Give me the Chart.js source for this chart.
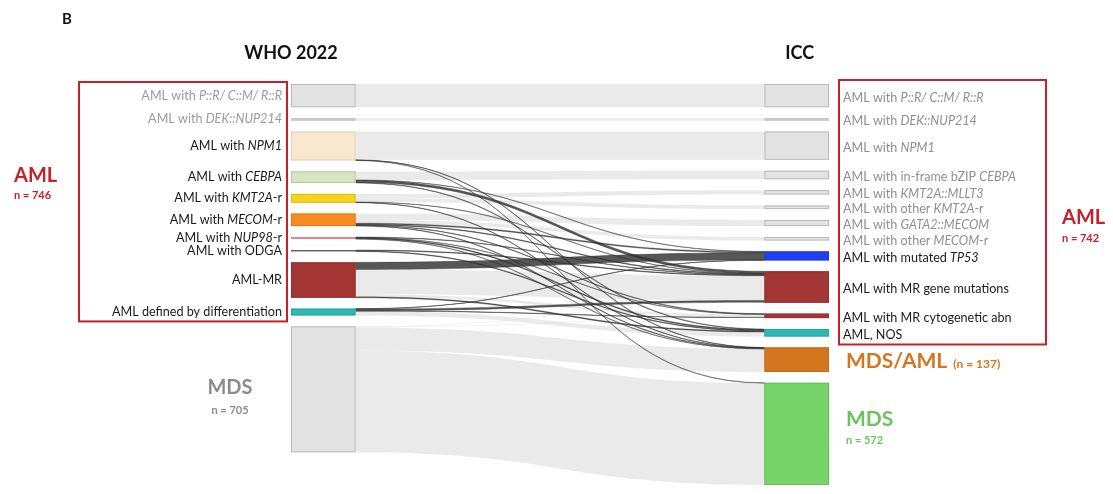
<!DOCTYPE html>
<html>
<head>
<meta charset="utf-8">
<script src="https://cdn.jsdelivr.net/npm/chart.js@4.4.1/dist/chart.umd.min.js"></script>
<style>
  html, body { margin: 0; padding: 0; background: #ffffff; }
  canvas { display: block; }
</style>
</head>
<body>
<canvas id="flow" width="1113" height="494"></canvas>
<script>
// WHO 2022 categories, top to bottom (*...* = italic gene names)
const whoCategories = [
  'AML with *P::R/ C::M/ R::R*',
  'AML with *DEK::NUP214*',
  'AML with *NPM1*',
  'AML with *CEBPA*',
  'AML with *KMT2A*-r',
  'AML with *MECOM*-r',
  'AML with *NUP98*-r',
  'AML with ODGA',
  'AML-MR',
  'AML defined by differentiation',
  'MDS'
];

// ICC categories, top to bottom
const iccCategories = [
  'AML with *P::R/ C::M/ R::R*',
  'AML with *DEK::NUP214*',
  'AML with *NPM1*',
  'AML with in-frame bZIP *CEBPA*',
  'AML with *KMT2A::MLLT3*',
  'AML with other *KMT2A*-r',
  'AML with *GATA2::MECOM*',
  'AML with other *MECOM*-r',
  'AML with mutated *TP53*',
  'AML with MR gene mutations',
  'AML with MR cytogenetic abn',
  'AML, NOS',
  'MDS/AML',
  'MDS'
];

// Patient flows WHO 2022 -> ICC
const flowFrom  = [0, 1, 2, 2, 2, 3, 3, 3, 3, 4, 4, 4, 4, 5, 5, 5, 5, 5, 5, 6, 6, 6, 6, 7, 7, 8, 8, 8, 8, 9, 9, 9, 9, 10, 10, 10, 10, 10];
const flowTo    = [0, 1, 2, 12, 13, 3, 8, 9, 11, 4, 5, 9, 12, 6, 7, 8, 9, 10, 12, 9, 10, 11, 12, 9, 11, 8, 9, 10, 11, 8, 9, 10, 11, 9, 10, 11, 12, 13];
const flowCount = [130, 14, 158, 2, 2, 48, 2, 12, 3, 25, 20, 2, 2, 34, 20, 6, 4, 3, 3, 3, 2, 5, 2, 4, 4, 40, 138, 15, 5, 2, 10, 2, 24, 3, 3, 1, 128, 570];
// true where the patient changes diagnostic group between the two systems
const flowChanged = [false, false, false, true, true, false, true, true, true, false, false, true, true, false, false, true, true, true, true, true, true, true, true, true, true, true, false, false, true, true, true, true, false, false, false, false, false, false];

// Group totals
const groupLabels = ['AML', 'AML', 'MDS', 'MDS/AML', 'MDS'];
const groupCounts = [746, 742, 705, 137, 572];

// ---- styling ----
const GREY_BOX = { fill: '#e3e3e3', stroke: '#b9b9b9' };
const whoStyle = [
  { ...GREY_BOX, text: '#9b9b9b' },
  { fill: '#c9c9c9', stroke: '#c9c9c9', text: '#9b9b9b' },
  { fill: '#f7e8cf', stroke: '#e2d2b4', text: '#1a1a1a' },
  { fill: '#d6e6c4', stroke: '#b5c99d', text: '#1a1a1a' },
  { fill: '#f8d21c', stroke: '#e4bd0c', text: '#1a1a1a' },
  { fill: '#f78b1f', stroke: '#e47a12', text: '#1a1a1a' },
  { fill: '#d98b92', stroke: '#d98b92', text: '#1a1a1a' },
  { fill: '#6e5660', stroke: '#6e5660', text: '#1a1a1a' },
  { fill: '#a33535', stroke: '#973030', text: '#1a1a1a' },
  { fill: '#2fb7b1', stroke: '#27a7a1', text: '#1a1a1a' },
  { ...GREY_BOX, text: '#8c8c8c' }
];
const iccStyle = [
  { ...GREY_BOX, text: '#8f8f8f' },
  { fill: '#c9c9c9', stroke: '#c9c9c9', text: '#8f8f8f' },
  { ...GREY_BOX, text: '#8f8f8f' },
  { ...GREY_BOX, text: '#8f8f8f' },
  { ...GREY_BOX, text: '#8f8f8f' },
  { ...GREY_BOX, text: '#8f8f8f' },
  { ...GREY_BOX, text: '#8f8f8f' },
  { ...GREY_BOX, text: '#8f8f8f' },
  { fill: '#1f40f2', stroke: '#1a36d8', text: '#1a1a1a' },
  { fill: '#a33535', stroke: '#973030', text: '#1a1a1a' },
  { fill: '#a33535', stroke: '#973030', text: '#1a1a1a' },
  { fill: '#2fb7b1', stroke: '#27a7a1', text: '#1a1a1a' },
  { fill: '#d4761f', stroke: '#c46a17', text: '#1a1a1a' },
  { fill: '#76d46b', stroke: '#62bd58', text: '#1a1a1a' }
];

const RED = '#c8202a';
const FONT = 'Lato, "Open Sans", sans-serif';
const LABEL_SIZE = 12.6;
const NODE_GAP = 61;      // spacing between stacked categories, in patients
const NODE_W = 0.12;      // node width in x-axis units

// ---- layout in data units ----
function nodeTotals(count, key) {
  const t = new Array(count).fill(0);
  flowCount.forEach((v, i) => { t[key[i]] += v; });
  return t;
}
function stack(totals) {
  const out = [];
  let y = 0;
  totals.forEach(v => {
    out.push({ y0: y, y1: y + v, out: y, in: y });
    y += v + NODE_GAP;
  });
  return out;
}
const whoTotals = nodeTotals(whoCategories.length, flowFrom);
const iccTotals = nodeTotals(iccCategories.length, flowTo);
const whoNodes = stack(whoTotals);
const iccNodes = stack(iccTotals);
const yMax = Math.max(
  whoNodes[whoNodes.length - 1].y1,
  iccNodes[iccNodes.length - 1].y1
);

// link ordering: outgoing by target position, incoming by source position
const order = flowCount.map((_, i) => i);
const links = new Array(flowCount.length);
[...order].sort((a, b) => flowFrom[a] - flowFrom[b] || flowTo[a] - flowTo[b]).forEach(i => {
  const n = whoNodes[flowFrom[i]];
  links[i] = { s0: n.out, s1: n.out + flowCount[i] };
  n.out += flowCount[i];
});
[...order].sort((a, b) => flowTo[a] - flowTo[b] || flowFrom[a] - flowFrom[b]).forEach(i => {
  const n = iccNodes[flowTo[i]];
  links[i].t0 = n.in;
  links[i].t1 = n.in + flowCount[i];
  n.in += flowCount[i];
});

// ---- text helpers ----
function fontFor(italic, size, weight) {
  return (italic ? 'italic ' : '') + (weight || 'normal') + ' ' + size + 'px ' + FONT;
}
function richText(ctx, text, x, y, align, size, color, weight) {
  const parts = text.split('*');
  const widths = parts.map((p, k) => {
    ctx.font = fontFor(k % 2 === 1, size, weight);
    return ctx.measureText(p).width;
  });
  const total = widths.reduce((a, b) => a + b, 0);
  let cx = align === 'right' ? x - total : (align === 'center' ? x - total / 2 : x);
  ctx.fillStyle = color;
  ctx.textAlign = 'left';
  ctx.textBaseline = 'middle';
  parts.forEach((p, k) => {
    ctx.font = fontFor(k % 2 === 1, size, weight);
    ctx.fillText(p, cx, y);
    cx += widths[k];
  });
}
function plainText(ctx, text, x, y, align, size, color, weight) {
  ctx.font = fontFor(false, size, weight);
  ctx.fillStyle = color;
  ctx.textAlign = align;
  ctx.textBaseline = 'alphabetic';
  ctx.fillText(text, x, y);
}

// ---- sankey drawing through the chart's scales ----
const sankeyPlugin = {
  id: 'sankeyFlows',
  beforeDatasetsDraw(chart) {
    const { ctx, scales: { x, y } } = chart;
    const xl1 = x.getPixelForValue(NODE_W);
    const xr0 = x.getPixelForValue(1 - NODE_W);
    const xm = (xl1 + xr0) / 2;

    function band(l) {
      const a0 = y.getPixelForValue(l.s0), a1 = y.getPixelForValue(l.s1);
      const b0 = y.getPixelForValue(l.t0), b1 = y.getPixelForValue(l.t1);
      ctx.beginPath();
      ctx.moveTo(xl1, a0);
      ctx.bezierCurveTo(xm, a0, xm, b0, xr0, b0);
      ctx.lineTo(xr0, b1);
      ctx.bezierCurveTo(xm, b1, xm, a1, xl1, a1);
      ctx.closePath();
    }

    ctx.save();
    // retained diagnoses: light grey ribbons
    flowCount.forEach((v, i) => {
      if (flowChanged[i]) return;
      band(links[i]);
      ctx.fillStyle = 'rgba(205,205,205,0.42)';
      ctx.fill();
    });
    // reclassified patients: dark ribbons
    flowCount.forEach((v, i) => {
      if (!flowChanged[i]) return;
      band(links[i]);
      ctx.fillStyle = 'rgba(50,50,50,0.82)';
      ctx.fill();
      ctx.lineWidth = 0.6;
      ctx.strokeStyle = 'rgba(45,45,45,0.6)';
      ctx.stroke();
    });
    ctx.restore();
  },
  afterDatasetsDraw(chart) {
    const { ctx, scales: { x, y } } = chart;
    const xl0 = x.getPixelForValue(0);
    const xl1 = x.getPixelForValue(NODE_W);
    const xr0 = x.getPixelForValue(1 - NODE_W);
    const xr1 = x.getPixelForValue(1);

    function node(x0, x1, n, st) {
      const p0 = y.getPixelForValue(n.y0), p1 = y.getPixelForValue(n.y1);
      const h = Math.max(p1 - p0, 1.2);
      ctx.fillStyle = st.fill;
      ctx.fillRect(x0, p0, x1 - x0, h);
      if (h > 2.5) {
        ctx.lineWidth = 1;
        ctx.strokeStyle = st.stroke;
        ctx.strokeRect(x0 + 0.5, p0 + 0.5, x1 - x0 - 1, h - 1);
      }
      return { top: p0, bottom: p0 + h, mid: p0 + h / 2 };
    }

    ctx.save();
    const whoPix = whoNodes.map((n, i) => node(xl0, xl1, n, whoStyle[i]));
    const iccPix = iccNodes.map((n, i) => node(xr0, xr1, n, iccStyle[i]));

    // category labels (the MDS-level groups get their own headings)
    whoCategories.forEach((t, i) => {
      if (i === whoCategories.length - 1) return;
      richText(ctx, t, xl0 - 9, whoPix[i].mid, 'right', LABEL_SIZE, whoStyle[i].text);
    });
    iccCategories.forEach((t, i) => {
      if (i >= iccCategories.length - 2) return;
      richText(ctx, t, xr1 + 14, iccPix[i].mid + 2, 'left', LABEL_SIZE, iccStyle[i].text);
    });

    // AML frames
    const lastWhoAml = whoCategories.length - 2;
    const lastIccAml = iccCategories.length - 3;
    ctx.lineWidth = 2;
    ctx.strokeStyle = RED;
    const lf = { x0: 79, x1: xl0 - 4, y0: whoPix[0].top - 2, y1: whoPix[lastWhoAml].bottom + 6 };
    ctx.strokeRect(lf.x0, lf.y0, lf.x1 - lf.x0, lf.y1 - lf.y0);
    const rf = { x0: xr1 + 10, x1: 1046, y0: iccPix[0].top - 4, y1: iccPix[lastIccAml].bottom + 8 };
    ctx.strokeRect(rf.x0, rf.y0, rf.x1 - rf.x0, rf.y1 - rf.y0);

    // group headings
    const lmid = (lf.y0 + lf.y1) / 2;
    plainText(ctx, groupLabels[0], 14, lmid - 20, 'left', 20, RED, 'bold');
    plainText(ctx, 'n = ' + groupCounts[0], 14, lmid - 3, 'left', 11, RED, 'bold');
    const rmid = (rf.y0 + rf.y1) / 2;
    plainText(ctx, groupLabels[1], 1062, rmid + 12, 'left', 20, RED, 'bold');
    plainText(ctx, 'n = ' + groupCounts[1], 1062, rmid + 30, 'left', 11, RED, 'bold');

    const mdsL = whoPix[whoPix.length - 1];
    const mdsLx = (79 + xl0) / 2 + 45;
    plainText(ctx, groupLabels[2], mdsLx, mdsL.mid + 5, 'center', 20, '#8c8c8c', 'bold');
    plainText(ctx, 'n = ' + groupCounts[2], mdsLx, mdsL.mid + 25, 'center', 11, '#8c8c8c', 'bold');

    const mdsAml = iccPix[iccPix.length - 2];
    plainText(ctx, groupLabels[3], xr1 + 17, mdsAml.mid + 8, 'left', 21, '#d4761f', 'bold');
    ctx.font = fontFor(false, 21, 'bold');
    const w = ctx.measureText(groupLabels[3]).width;
    plainText(ctx, '(n = ' + groupCounts[3] + ')', xr1 + 17 + w + 6, mdsAml.mid + 8, 'left', 12, '#d4761f', 'bold');

    const mdsR = iccPix[iccPix.length - 1];
    plainText(ctx, groupLabels[4], xr1 + 17, mdsR.mid - 8, 'left', 21, '#6cc45f', 'bold');
    plainText(ctx, 'n = ' + groupCounts[4], xr1 + 17, mdsR.mid + 10, 'left', 11, '#6cc45f', 'bold');

    // column titles and panel letter
    plainText(ctx, 'WHO 2022', xl0, 59, 'center', 18, '#111111', 'bold');
    plainText(ctx, 'ICC', (xr0 + xr1) / 2 + 3, 59, 'center', 18, '#111111', 'bold');
    plainText(ctx, 'B', 62, 24, 'left', 15, '#111111', 'bold');
    ctx.restore();
  }
};

new Chart(document.getElementById('flow').getContext('2d'), {
  type: 'scatter',
  data: { datasets: [{ data: [], pointRadius: 0 }] },
  options: {
    responsive: false,
    animation: false,
    events: [],
    layout: { padding: { left: 291, right: 284, top: 84, bottom: 9 } },
    plugins: { legend: { display: false }, tooltip: { enabled: false } },
    scales: {
      x: { type: 'linear', min: 0, max: 1, display: false },
      y: { type: 'linear', min: 0, max: yMax, reverse: true, display: false }
    }
  },
  plugins: [sankeyPlugin]
});
</script>
</body>
</html>
